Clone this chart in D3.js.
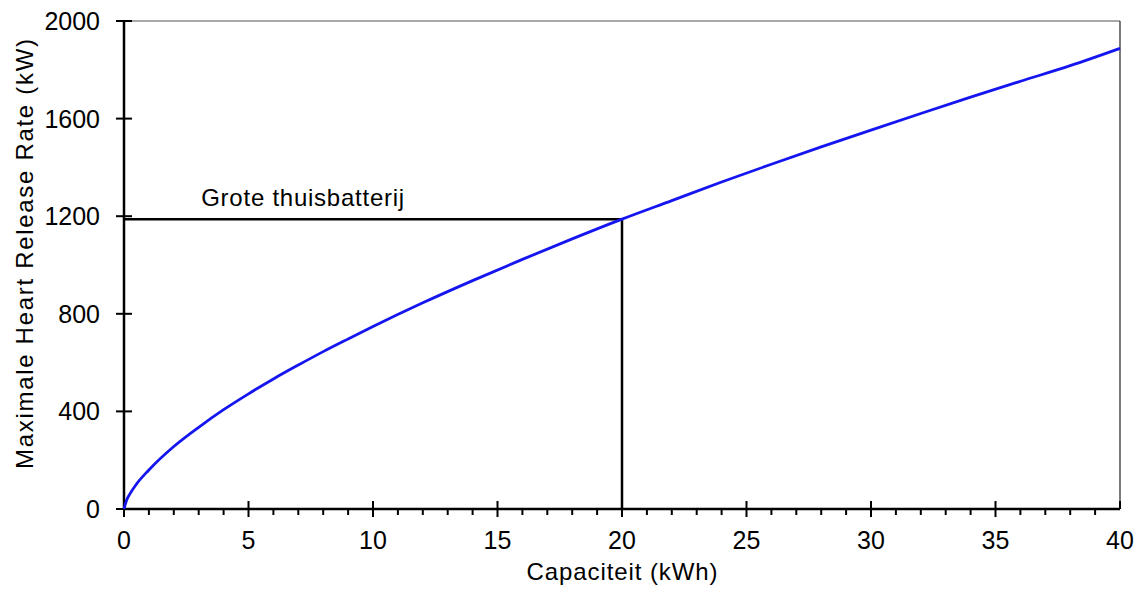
<!DOCTYPE html>
<html>

<head>
    <script src="https://d3js.org/d3.v7.min.js"></script>
    <title>Capaciteit vs HRR</title>
    <style>
        body { margin: 0; background: #fff; }
        text { font-family: Arial, "Liberation Sans", sans-serif; fill: #000; }
    </style>
</head>

<body>
    <svg></svg>
    <script>
        // values
        const capacity = [0, 0.1, 0.25, 0.5, 1, 2, 3, 4, 5, 6, 7, 8, 9, 10, 12, 14, 16, 18, 20,
            22, 24, 26, 28, 30, 32, 34, 36, 38, 40];
        const hrr = [0, 35, 64, 102, 160, 256, 335, 407, 472, 533, 590, 645, 697, 748, 845, 936,
            1023, 1107, 1188, 1264, 1340, 1413, 1484, 1553, 1621, 1688, 1753, 1817, 1888];
        const xTicks = [0, 5, 10, 15, 20, 25, 30, 35, 40];
        const yTicks = [0, 400, 800, 1200, 1600, 2000];
        const marker = { x: 20, y: 1188, label: "Grote thuisbatterij" };

        const width = 1140;
        const height = 589;
        const margin = { top: 21, right: 20, bottom: 80, left: 124 };
        const w = width - margin.left - margin.right;
        const h = height - margin.top - margin.bottom;

        const svg = d3.select("svg")
            .attr("width", width)
            .attr("height", height);
        const g = svg.append("g")
            .attr("transform", `translate(${margin.left},${margin.top})`);

        const x = d3.scaleLinear().domain([0, 40]).range([0, w]);
        const y = d3.scaleLinear().domain([0, 2000]).range([h, 0]);

        // frame top / right
        g.append("line").attr("x1", 0).attr("x2", w).attr("y1", 0).attr("y2", 0)
            .attr("stroke", "#555").attr("stroke-width", 1.2);
        g.append("line").attr("x1", w).attr("x2", w).attr("y1", 0).attr("y2", h)
            .attr("stroke", "#222").attr("stroke-width", 1.2);

        // minor x ticks (outside only)
        g.selectAll(".minor")
            .data(d3.range(0, 41).filter(d => d % 5 !== 0))
            .enter().append("line")
            .attr("x1", d => x(d)).attr("x2", d => x(d))
            .attr("y1", h).attr("y2", h + 6)
            .attr("stroke", "#000").attr("stroke-width", 2);

        // major x ticks (cross)
        g.selectAll(".xmajor")
            .data(xTicks)
            .enter().append("line")
            .attr("x1", d => x(d)).attr("x2", d => x(d))
            .attr("y1", h - 8).attr("y2", d => d === 40 ? h : h + 8)
            .attr("stroke", "#000").attr("stroke-width", 2);

        g.selectAll(".xlab")
            .data(xTicks)
            .enter().append("text")
            .attr("x", d => x(d)).attr("y", h + 40)
            .attr("text-anchor", "middle")
            .style("font-size", "25px")
            .text(d => d);

        // y ticks (cross)
        g.selectAll(".ymajor")
            .data(yTicks)
            .enter().append("line")
            .attr("x1", -8).attr("x2", 8)
            .attr("y1", d => y(d)).attr("y2", d => y(d))
            .attr("stroke", "#000").attr("stroke-width", 2);

        g.selectAll(".ylab")
            .data(yTicks)
            .enter().append("text")
            .attr("x", -24).attr("y", d => y(d) + 9)
            .attr("text-anchor", "end")
            .style("font-size", "25px")
            .text(d => d);

        // axes
        g.append("line").attr("x1", 0).attr("x2", w).attr("y1", h).attr("y2", h)
            .attr("stroke", "#000").attr("stroke-width", 2.5);
        g.append("line").attr("x1", 0).attr("x2", 0).attr("y1", 0).attr("y2", h)
            .attr("stroke", "#000").attr("stroke-width", 2.5);

        // marker lines
        g.append("path")
            .attr("d", `M${x(0)},${y(marker.y)}H${x(marker.x)}V${y(0)}`)
            .attr("fill", "none")
            .attr("stroke", "#000")
            .attr("stroke-width", 2.5);

        g.append("text")
            .attr("x", x(3.1)).attr("y", y(marker.y) - 13)
            .style("font-size", "24px")
            .attr("textLength", 203)
            .text(marker.label);

        // curve
        const line = d3.line()
            .x((d, i) => x(capacity[i]))
            .y(d => y(d))
            .curve(d3.curveMonotoneX);
        g.append("path")
            .datum(hrr)
            .attr("d", line)
            .attr("fill", "none")
            .attr("stroke", "#1515f0")
            .attr("stroke-width", 2.8);

        // axis titles
        svg.append("text")
            .attr("x", margin.left + w / 2).attr("y", 580)
            .attr("text-anchor", "middle")
            .style("font-size", "24px")
            .attr("textLength", 191)
            .text("Capaciteit (kWh)");
        svg.append("text")
            .attr("transform", `translate(33,254) rotate(-90)`)
            .attr("text-anchor", "middle")
            .style("font-size", "24px")
            .attr("textLength", 430)
            .text("Maximale Heart Release Rate (kW)");
    </script>
</body>

</html>
